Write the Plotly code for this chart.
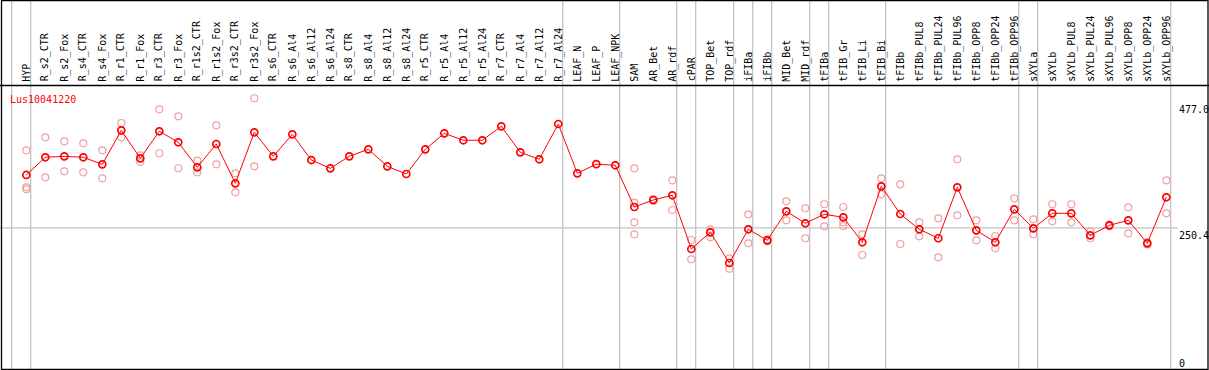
import plotly.graph_objects as go

W, H = 1209, 370

cats = ["HYP", "R_s2_CTR", "R_s2_Fox", "R_s4_CTR", "R_s4_Fox", "R_r1_CTR", "R_r1_Fox",
        "R_r3_CTR", "R_r3_Fox", "R_r1s2_CTR", "R_r1s2_Fox", "R_r3s2_CTR", "R_r3s2_Fox",
        "R_s6_CTR", "R_s6_Al4", "R_s6_Al12", "R_s6_Al24", "R_s8_CTR", "R_s8_Al4",
        "R_s8_Al12", "R_s8_Al24", "R_r5_CTR", "R_r5_Al4", "R_r5_Al12", "R_r5_Al24",
        "R_r7_CTR", "R_r7_Al4", "R_r7_Al12", "R_r7_Al24", "LEAF_N", "LEAF_P", "LEAF_NPK",
        "SAM", "AR_Bet", "AR_rdf", "cPAR", "TOP_Bet", "TOP_rdf", "iFIBa", "iFIBb",
        "MID_Bet", "MID_rdf", "tFIBa", "tFIB_Gr", "tFIB_Li", "tFIB_Bi", "tFIBb",
        "tFIBb_PUL8", "tFIBb_PUL24", "tFIBb_PUL96", "tFIBb_OPP8", "tFIBb_OPP24",
        "tFIBb_OPP96", "sXYLa", "sXYLb", "sXYLb_PUL8", "sXYLb_PUL24", "sXYLb_PUL96",
        "sXYLb_OPP8", "sXYLb_OPP24", "sXYLb_OPP96"]

mean_vals = [343, 373.9, 375.6, 373.9, 361.6, 421, 372.1, 419.3, 400.1, 356.4, 397.1,
             328.4, 417.5, 375.6, 414, 369.1, 354.6, 375.6, 387.8, 358.1, 344.7, 387.8,
             415.8, 403.6, 403.6, 428, 382.6, 370.4, 432, 345.9, 361.9, 359.9, 287,
             299.3, 307.5, 213.7, 242.8, 189.2, 248.1, 228.8, 279.5, 258.6, 274.3, 269,
             225.4, 323.2, 274.8, 248.1, 232.4, 321.4, 246.3, 225.4, 283, 249.8, 276,
             276, 237.6, 255, 263.8, 223.6, 304]

N = None
rep_a = [386, 408.8, 401.8, 398.3, 386.1, 433.8, 377.4, 457.7, 445.5, 368, 429.8,
         345.9, 477, N, N, N, N, N, N, N, N, N, N, N, N, N, N, N, N, N, N, N,
         354.6, 301, 333.7, 229.4, 248.1, 197.4, 274.3, 230.5, 297, 284.8, 291.8, 287,
         239.3, 337.2, 326.7, 260.3, 267.3, 370.4, 263.8, 236.4, 302.2, 265.5, 291.8,
         291.8, 244.6, 256.5, 286.5, 225.5, 333.7]
rep_b = [321.4, 338.9, 349.4, 347.7, 337.2, 408.8, 365.7, 380.9, 354.7, 347.7, 361.6,
         312.7, 358.1, N, N, N, N, N, N, N, N, N, N, N, N, N, N, N, N, N, N, N,
         239.3, 297.5, 281.8, 195.7, 234, 179.3, 223.6, 227, 263.8, 232.4, 253.3, 253.8,
         203.2, 309.2, 222.4, 235.8, 199.2, 272.5, 228.9, 214.9, 263.8, 239.3, 262,
         260.3, 232.4, 253.5, 241, 221.5, 276]
extra_cats = ["HYP", "SAM", "SAM", "tFIB_Gr"]
extra_vals = [318, 294.6, 260.3, 260.3]

sep_after = ["", "HYP", "R_r7_Al24", "LEAF_NPK", "AR_rdf", "cPAR", "TOP_rdf", "iFIBa",
             "iFIBb", "MID_rdf", "tFIBa", "tFIB_Bi", "tFIBb_OPP96", "sXYLa", "sXYLb_OPP96"]

title_text = "Lus10041220"
ytick_vals = [477.0, 250.4, 0]
ytick_text = ["477.0", "250.4", "0"]

# ---- geometry ----
xs = list(range(len(cats)))
idx = {c: i for i, c in enumerate(cats)}
px_per_cat = 19.0
x0_px = 26.3
x_range = [(0 - x0_px) / px_per_cat, (W - x0_px) / px_per_cat]
header_px = 85.5
y_scale = 0.5724
y_zero_px = 371.3
y_range = [(y_zero_px - H) / y_scale, (y_zero_px - header_px) / y_scale]

def py(p):
    return (H - p) / H

FONT = "DejaVu Sans Mono"
RED = "#ff0000"
LIGHT = "#f0a0a0"
GRID = "#c4c4c4"

fig = go.Figure()

rx, ry = [], []
for i in xs:
    for arr in (rep_a, rep_b):
        if arr[i] is not None:
            rx.append(i)
            ry.append(arr[i])
for c, v in zip(extra_cats, extra_vals):
    rx.append(idx[c])
    ry.append(v)

fig.add_trace(go.Scatter(x=rx, y=ry, mode="markers", hoverinfo="skip",
                         marker=dict(symbol="circle-open", size=7, color=LIGHT,
                                     line=dict(width=1.2, color=LIGHT))))
fig.add_trace(go.Scatter(x=xs, y=mean_vals, mode="lines+markers",
                         line=dict(color=RED, width=1),
                         marker=dict(symbol="circle-open", size=7, color=RED,
                                     line=dict(width=1.7, color=RED))))

shapes = []
for c in sep_after:
    i = idx[c] if c else -1
    xv = i + 0.23
    shapes.append(dict(type="line", xref="x", yref="paper", x0=xv, x1=xv, y0=0, y1=1,
                       line=dict(color=GRID, width=1.3), layer="below"))
shapes.append(dict(type="line", xref="paper", yref="y", x0=0, x1=1178 / W,
                   y0=250.4, y1=250.4, line=dict(color=GRID, width=1.3), layer="below"))
shapes.append(dict(type="line", xref="paper", yref="paper", x0=0, x1=1,
                   y0=py(header_px), y1=py(header_px), line=dict(color="black", width=1.3)))
shapes.append(dict(type="rect", xref="paper", yref="paper", x0=1.5 / W, x1=1208 / W,
                   y0=py(369.5), y1=py(0.5), line=dict(color="black", width=1.3)))

ann = []
for i, c in enumerate(cats):
    ann.append(dict(x=i, y=py(83.5), xref="x", yref="paper", text=c, showarrow=False,
                    textangle=-90, xanchor="center", yanchor="bottom",
                    font=dict(family=FONT, size=10, color="black")))
ann.append(dict(x=8 / W, y=py(92), xref="paper", yref="paper", text=title_text,
                showarrow=False, xanchor="left", yanchor="top",
                font=dict(family=FONT, size=10, color=RED)))
tick_top_px = [102, 228, 356]
for t, p in zip(ytick_text, tick_top_px):
    ann.append(dict(x=1177 / W, y=py(p), xref="paper", yref="paper", text=t,
                    showarrow=False, xanchor="left", yanchor="top",
                    font=dict(family=FONT, size=10, color="black")))

fig.update_layout(
    width=W, height=H, margin=dict(l=0, r=0, t=0, b=0),
    paper_bgcolor="white", plot_bgcolor="white", showlegend=False,
    xaxis=dict(range=x_range, showgrid=False, zeroline=False, showticklabels=False,
               showline=False, fixedrange=True),
    yaxis=dict(range=y_range, domain=[0, py(header_px)], showgrid=False, zeroline=False,
               showticklabels=False, showline=False, fixedrange=True),
    shapes=shapes, annotations=ann,
)

fig.write_html("out.html", config={"displayModeBar": False})

# remove the default page margin so the figure sits at the window's top-left corner
with open("out.html", "r", encoding="utf-8") as f:
    html = f.read()
html = html.replace("<head>", "<head><style>html,body{margin:0;padding:0;overflow:hidden;}</style>", 1)
with open("out.html", "w", encoding="utf-8") as f:
    f.write(html)
